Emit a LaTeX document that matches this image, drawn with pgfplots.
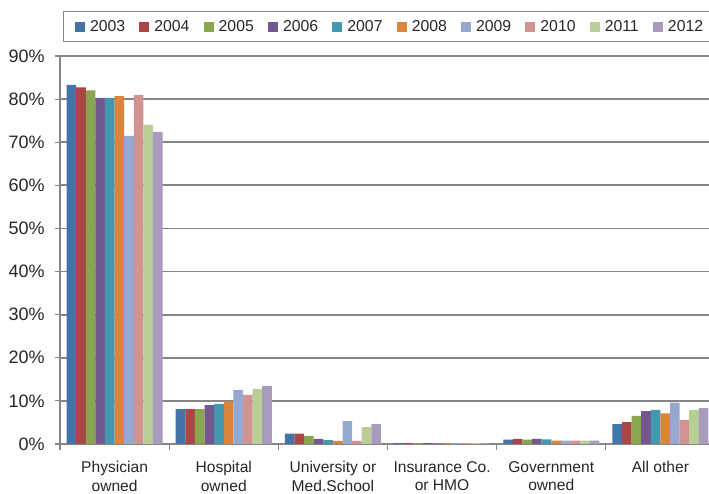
\documentclass[border=0pt]{standalone}
\usepackage{pgfplots}
\pgfplotsset{compat=1.18}
\usepackage{fontspec}
\setmainfont{Liberation Sans}
\definecolor{c03}{HTML}{4572A7}
\definecolor{c04}{HTML}{AA4643}
\definecolor{c05}{HTML}{89A54E}
\definecolor{c06}{HTML}{71588F}
\definecolor{c07}{HTML}{4198AF}
\definecolor{c08}{HTML}{DB843D}
\definecolor{c09}{HTML}{93A9CF}
\definecolor{c10}{HTML}{D19392}
\definecolor{c11}{HTML}{B9CD96}
\definecolor{c12}{HTML}{A99BBD}
\definecolor{gridc}{HTML}{868686}
\definecolor{textc}{HTML}{262626}
\begin{document}
\fontsize{15.4}{18.4}\selectfont
\color{textc}
\begin{tikzpicture}
\begin{axis}[
  at={(0,0)}, anchor=south west,
  scale only axis, width=655pt, height=388pt,
  ybar=0pt, bar width=9.6pt,
  xmin=-0.5, xmax=5.5, ymin=0, ymax=90,
  xtick={0,...,5},
  xticklabels={{Physician\\owned},{Hospital\\owned},{University or\\Med.School},{Insurance Co.\\or HMO},{Government\\owned},{All other}},
  xticklabel style={align=center, font=\fontsize{15.6}{18.6}\selectfont, yshift=-7pt},
  major x tick style={draw=none},
  minor xtick={-0.5,0.5,...,5.5},
  minor x tick style={gridc, line width=1.2pt},
  ytick={0,10,...,90},
  yticklabels={0\%,10\%,20\%,30\%,40\%,50\%,60\%,70\%,80\%,90\%},
  yticklabel style={font=\fontsize{18}{20}\selectfont, xshift=-5pt},
  tick align=outside,
  major tick length=5pt, minor tick length=6pt,
  y tick style={gridc, line width=1.2pt},
  ymajorgrids, grid style={gridc, line width=1.8pt},
  axis x line*=bottom, axis y line*=left,
  axis line style={gridc, line width=1.5pt, -},
  legend columns=10,
  legend style={at={(0.0046,1.116)}, anchor=north west, draw=gridc, line width=1pt,
    font=\fontsize{15.8}{18}\selectfont, text=textc, inner xsep=11.5pt, inner ysep=6.5pt,
    /tikz/every even column/.append style={column sep=12.2pt}},
  legend image code/.code={\fill[#1] (0pt,-5pt) rectangle (10pt,5pt); \path (13pt,0pt);},
  every axis plot/.append style={draw=none},
]
\addplot[fill=c03] coordinates {(0,83.3) (1,8.1) (2,2.4) (3,0.2) (4,1.0) (5,4.6)};
\addplot[fill=c04] coordinates {(0,82.7) (1,8.1) (2,2.4) (3,0.2) (4,1.2) (5,5.1)};
\addplot[fill=c05] coordinates {(0,82.0) (1,8.1) (2,1.9) (3,0.2) (4,1.0) (5,6.5)};
\addplot[fill=c06] coordinates {(0,80.3) (1,9.0) (2,1.2) (3,0.2) (4,1.2) (5,7.6)};
\addplot[fill=c07] coordinates {(0,80.3) (1,9.3) (2,0.9) (3,0.2) (4,1.1) (5,7.9)};
\addplot[fill=c08] coordinates {(0,80.7) (1,9.9) (2,0.7) (3,0.2) (4,0.8) (5,7.1)};
\addplot[fill=c09] coordinates {(0,71.5) (1,12.5) (2,5.3) (3,0.2) (4,0.8) (5,9.6)};
\addplot[fill=c10] coordinates {(0,81.0) (1,11.4) (2,0.7) (3,0.2) (4,0.8) (5,5.6)};
\addplot[fill=c11] coordinates {(0,74.1) (1,12.8) (2,3.9) (3,0.2) (4,0.8) (5,7.9)};
\addplot[fill=c12] coordinates {(0,72.4) (1,13.5) (2,4.6) (3,0.2) (4,0.8) (5,8.3)};
\legend{2003,2004,2005,2006,2007,2008,2009,2010,2011,2012}
\end{axis}
\pgfresetboundingbox
\useasboundingbox (-60pt,-50pt) rectangle (649pt,444pt);
\end{tikzpicture}
\end{document}
